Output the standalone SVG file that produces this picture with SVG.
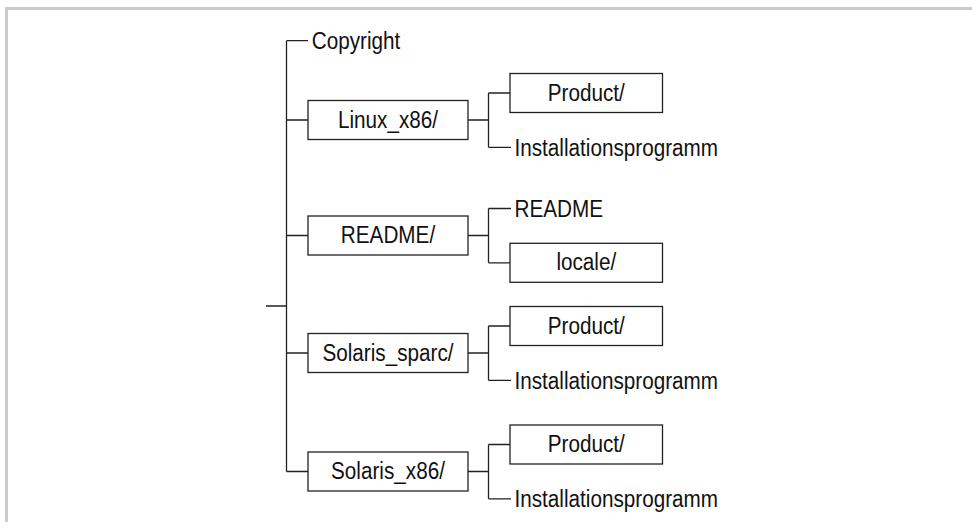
<svg xmlns="http://www.w3.org/2000/svg" width="972" height="522" viewBox="0 0 972 522">
<style>
.frame{fill:none;stroke:#cbcbcb;stroke-width:3}
.box{fill:#fff;stroke:#222;stroke-width:1.3}
.ln{fill:none;stroke:#222;stroke-width:1.3}
text{font-family:"Liberation Sans",Arial,sans-serif;font-size:23px;fill:#111;lengthAdjust:spacingAndGlyphs}
.c{text-anchor:middle}
</style>
<rect width="972" height="522" fill="#fff"/>
<path class="frame" d="M6.5 530 V8.5 H980"/>
<g id="connectors">
<path class="ln" d="M286.5 40.7 V471.5 M286.5 40.7 H308 M266 306 H286.5 M286.5 120 H308 M286.5 235.5 H308 M286.5 353 H308 M286.5 471.5 H308"/>
<path class="ln" d="M468 120 H488.5 M488.5 93 V147.3 M488.5 93 H510 M488.5 147.3 H511"/>
<path class="ln" d="M468 235.5 H488.5 M488.5 208.5 V262.8 M488.5 208.5 H511 M488.5 262.8 H510"/>
<path class="ln" d="M468 353 H488.5 M488.5 326 V380.3 M488.5 326 H510 M488.5 380.3 H511"/>
<path class="ln" d="M468 471.5 H488.5 M488.5 444.5 V498.8 M488.5 444.5 H510 M488.5 498.8 H511"/>
</g>
<g id="copyright"><text x="311.7" y="49" textLength="88.6" lengthAdjust="spacingAndGlyphs">Copyright</text></g>
<g id="linux"><rect class="box" x="308" y="100.5" width="160" height="39"/><text class="c" x="388" y="127.5" textLength="100.1" lengthAdjust="spacingAndGlyphs">Linux_x86/</text></g>
<g id="linux-product"><rect class="box" x="510" y="73.5" width="152.5" height="39"/><text class="c" x="586.3" y="100.5" textLength="77.1" lengthAdjust="spacingAndGlyphs">Product/</text></g>
<g id="linux-install"><text x="514.5" y="155.8" textLength="203.6" lengthAdjust="spacingAndGlyphs">Installationsprogramm</text></g>
<g id="readme-dir"><rect class="box" x="308" y="216" width="160" height="39"/><text class="c" x="388" y="243" textLength="94.3" lengthAdjust="spacingAndGlyphs">README/</text></g>
<g id="readme-file"><text x="514.5" y="217" textLength="88.6" lengthAdjust="spacingAndGlyphs">README</text></g>
<g id="locale"><rect class="box" x="510" y="243.3" width="152.5" height="39"/><text class="c" x="586.3" y="270.3" textLength="59.8" lengthAdjust="spacingAndGlyphs">locale/</text></g>
<g id="solaris-sparc"><rect class="box" x="308" y="333.5" width="160" height="39"/><text class="c" x="388" y="360.5" textLength="131.1" lengthAdjust="spacingAndGlyphs">Solaris_sparc/</text></g>
<g id="sparc-product"><rect class="box" x="510" y="306.5" width="152.5" height="39"/><text class="c" x="586.3" y="333.5" textLength="77.1" lengthAdjust="spacingAndGlyphs">Product/</text></g>
<g id="sparc-install"><text x="514.5" y="388.8" textLength="203.6" lengthAdjust="spacingAndGlyphs">Installationsprogramm</text></g>
<g id="solaris-x86"><rect class="box" x="308" y="452" width="160" height="39"/><text class="c" x="388" y="479" textLength="113.9" lengthAdjust="spacingAndGlyphs">Solaris_x86/</text></g>
<g id="x86-product"><rect class="box" x="510" y="425" width="152.5" height="39"/><text class="c" x="586.3" y="452" textLength="77.1" lengthAdjust="spacingAndGlyphs">Product/</text></g>
<g id="x86-install"><text x="514.5" y="507.3" textLength="203.6" lengthAdjust="spacingAndGlyphs">Installationsprogramm</text></g>
</svg>
